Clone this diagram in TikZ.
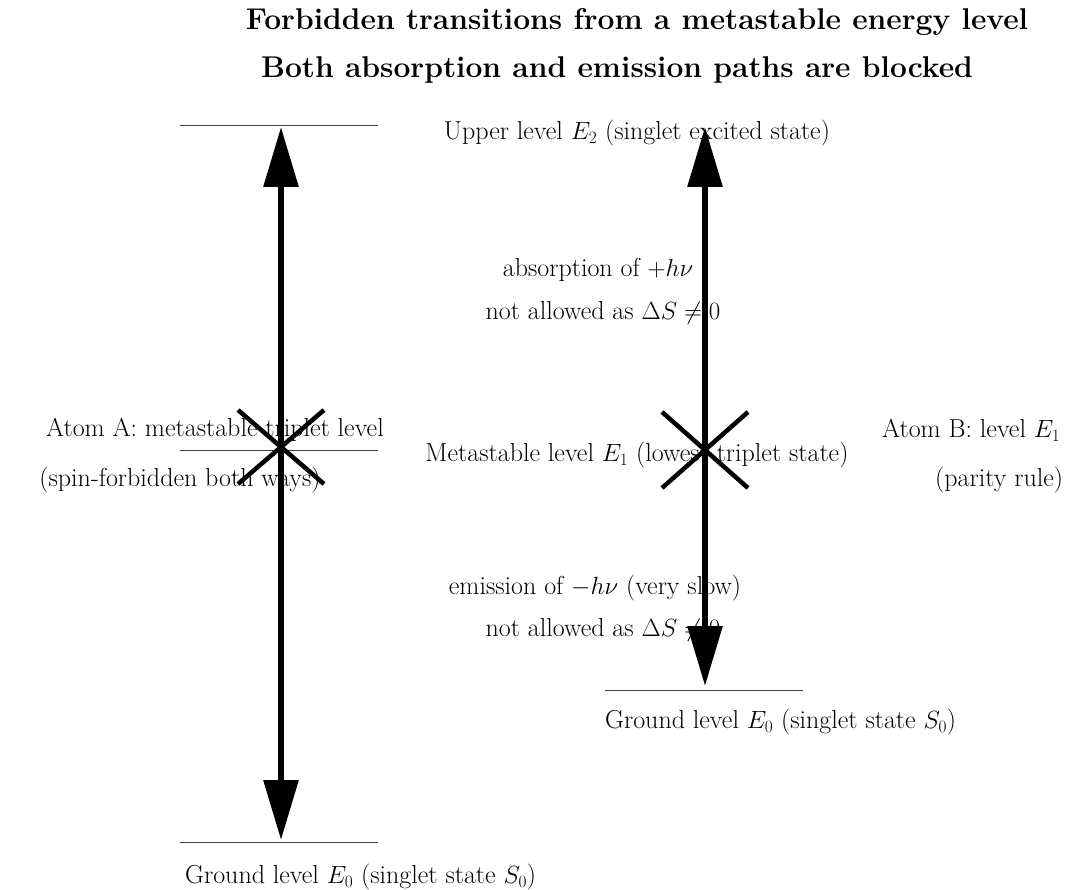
\documentclass[tikz,border=0pt]{standalone}
\usetikzlibrary{arrows.meta}
\tikzset{
  level/.style={draw=darkgray, line width=0.9pt},
  jump/.style={line width=6pt, -{Triangle[length=60pt,width=34pt]}},
  cross/.style={line width=4.5pt},
  lbl/.style={font=\fontsize{26}{30}\selectfont, inner sep=0pt},
  ttl/.style={font=\fontsize{30}{34}\selectfont\bfseries, inner sep=0pt}
}
\begin{document}
\begin{tikzpicture}[x=1pt,y=-1pt]
  \useasboundingbox (0,0) rectangle (1088,890);

  % --- titolo ---
  \node[ttl] (tit1) at (637,22) {Forbidden transitions from a metastable energy level};
  \node[ttl] (tit2) at (617,70) {Both absorption and emission paths are blocked};

  % --- colonna sinistra (atomo A) ---
  \draw[level] (180,125) coordinate (ltopL) -- (378,125);
  \draw[level] (180,450) coordinate (lmidL) -- (378,450);
  \draw[level] (180,842) coordinate (lbotL) -- (378,842);
  \coordinate (lmid) at (281,450);
  \coordinate (ltop) at (281,127);
  \coordinate (lbot) at (281,840);
  \node[lbl, anchor=west] (groundA) at (185,877) {Ground level $E_0$ (singlet state $S_0$)};
  \node[lbl] (atomA) at (215,430) {Atom A: metastable triplet level};
  \node[lbl] (noteA) at (180,480) {(spin-forbidden both ways)};

  % --- colonna destra (atomo B) ---
  \draw[level] (605,690) coordinate (lbotR) -- (803,690);
  \coordinate (rmid) at (705,450);
  \coordinate (rtop) at (705,127);
  \coordinate (rbot) at (705,686);
  \node[lbl, anchor=west] (groundB) at (605,722) {Ground level $E_0$ (singlet state $S_0$)};
  \node[lbl, anchor=west] (atomB) at (882,430) {Atom B: level $E_1$};
  \node[lbl, anchor=west] (noteB) at (935,480) {(parity rule)};

  % --- testi centrali ---
  \node[lbl] (upper) at (637,133) {Upper level $E_2$ (singlet excited state)};
  \node[lbl] (meta) at (637,455) {Metastable level $E_1$ (lowest triplet state)};
  \node[lbl] (absorb) at (598,270) {absorption of $+h\nu$};
  \node[lbl] (rule1) at (603,313) {not allowed as $\Delta S \neq 0$};
  \node[lbl] (emit) at (595,588) {emission of $-h\nu$ (very slow)};
  \node[lbl] (rule2) at (603,630) {not allowed as $\Delta S \neq 0$};

  % --- frecce ---
  \draw[jump] (lmid) -- (ltop);
  \draw[jump] (lmid) -- (lbot);
  \draw[jump] (rmid) -- (rtop);
  \draw[jump] (rmid) -- (rbot);

  % --- croci (transizioni vietate) ---
  \draw[cross] (281,447) ++(-43,-37) -- ++(86,74);
  \draw[cross] (281,447) ++(43,-37) -- ++(-86,74);
  \draw[cross] (rmid) ++(-43,-38) -- ++(86,76);
  \draw[cross] (rmid) ++(43,-38) -- ++(-86,76);

\end{tikzpicture}
\end{document}
